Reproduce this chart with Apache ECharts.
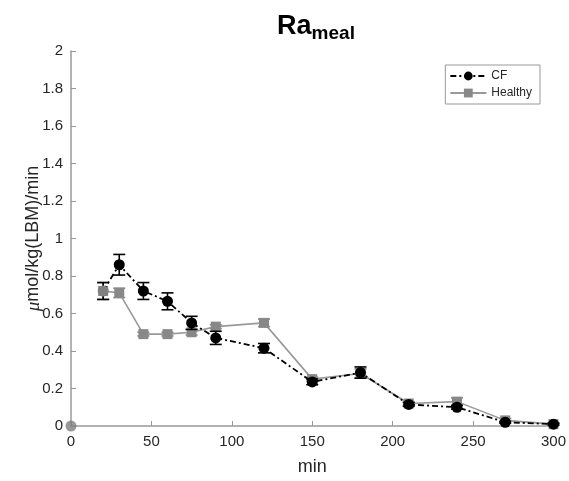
<!DOCTYPE html>
<html><head><meta charset="utf-8">
<script src="https://cdn.jsdelivr.net/npm/echarts@6/dist/echarts.min.js"></script>
<style>html,body{margin:0;padding:0;background:#fff}#c{width:569px;height:481px}</style>
</head><body><div id="c"></div>
<script>
var times = [0, 20, 30, 45, 60, 75, 90, 120, 150, 180, 210, 240, 270, 300];
var cfMean = [0, 0.72, 0.86, 0.72, 0.665, 0.55, 0.47, 0.415, 0.235, 0.285, 0.115, 0.10, 0.02, 0.01];
var cfErr = [0, 0.045, 0.055, 0.045, 0.045, 0.035, 0.035, 0.025, 0.015, 0.03, 0.01, 0.01, 0.005, 0.005];
var hMean = [0, 0.72, 0.71, 0.49, 0.49, 0.50, 0.53, 0.55, 0.25, 0.28, 0.12, 0.13, 0.03, 0.01];
var hErr = [0, 0.045, 0.025, 0.01, 0.01, 0.015, 0.01, 0.02, 0.01, 0.025, 0.01, 0.02, 0.01, 0.005];
var yTicks = [0, 0.2, 0.4, 0.6, 0.8, 1, 1.2, 1.4, 1.6, 1.8, 2];
var xTicks = [0, 50, 100, 150, 200, 250, 300];

function pairs(m){ return times.map(function(t,i){ return [t, m[i]]; }).slice(1); }
function errData(m, e){ return times.map(function(t,i){ return [t, m[i]-e[i], m[i]+e[i]]; }).slice(1); }
function errSeries(m, e, color, z){
  return {
    type: 'custom', z: z, silent: true,
    data: errData(m, e),
    renderItem: function(params, api){
      var x = api.value(0);
      var lo = api.coord([x, api.value(1)]);
      var hi = api.coord([x, api.value(2)]);
      var w = 6;
      var st = {stroke: color, lineWidth: 1.6};
      return {type: 'group', children: [
        {type: 'line', shape: {x1: lo[0], y1: lo[1], x2: hi[0], y2: hi[1]}, style: st},
        {type: 'line', shape: {x1: lo[0]-w, y1: lo[1], x2: lo[0]+w, y2: lo[1]}, style: st},
        {type: 'line', shape: {x1: hi[0]-w, y1: hi[1], x2: hi[0]+w, y2: hi[1]}, style: st}
      ]};
    }
  };
}
var cfPts = pairs(cfMean).map(function(p,i){
  return (i < 1) ? {value: p, itemStyle: {color: '#808080'}} : p;
});
var txt = '#262626';
var chart = echarts.init(document.getElementById('c'));
chart.setOption({
  animation: false,
  title: {
    text: '{a|Ra}{b|meal}', left: 311, top: 5, textAlign: 'center',
    textStyle: {rich: {
      a: {fontFamily: 'Liberation Sans', fontWeight: 'bold', fontSize: 27, color: '#000'},
      b: {fontFamily: 'Liberation Sans', fontWeight: 'bold', fontSize: 19, color: '#000', padding: [14,0,0,0]}
    }}
  },
  legend: {
    orient: 'vertical', right: 29, top: 65,
    backgroundColor: '#fff', borderColor: '#999', borderWidth: 1, borderRadius: 0,
    padding: [5, 8, 5, 4], itemGap: 5, itemWidth: 36, itemHeight: 11,
    textStyle: {fontFamily: 'Liberation Sans', fontSize: 12, color: txt},
    data: ['CF', 'Healthy']
  },
  grid: {left: 71, right: 13, top: 51, bottom: 55},
  xAxis: {
    type: 'value', min: 0, max: 300, interval: 50,
    name: 'min', nameLocation: 'middle', nameGap: 32, nameMoveOverlap: false,
    nameTextStyle: {fontFamily: 'Liberation Sans', fontSize: 18, color: txt},
    axisLine: {show: true, lineStyle: {color: '#999', width: 1.5}},
    axisTick: {show: true, inside: true, length: 5, lineStyle: {color: '#999'}},
    axisLabel: {fontFamily: 'Liberation Sans', fontSize: 15, color: txt, margin: 8},
    splitLine: {show: false}
  },
  yAxis: {
    type: 'value', min: 0, max: 2, interval: 0.2,
    name: '{i|μ}mol/kg(LBM)/min', nameLocation: 'middle', nameGap: 28, nameMoveOverlap: false,
    nameTextStyle: {fontFamily: 'Liberation Sans', fontSize: 18, color: txt,
      rich: {i: {fontFamily: 'Liberation Serif', fontStyle: 'italic', fontSize: 19, color: txt}}},
    axisLine: {show: true, lineStyle: {color: '#999', width: 1.5}},
    axisTick: {show: true, inside: true, length: 5, lineStyle: {color: '#999'}},
    axisLabel: {fontFamily: 'Liberation Sans', fontSize: 15, color: txt, margin: 8,
      formatter: function(v){ return String(Math.round(v*10)/10); }},
    splitLine: {show: false}
  },
  series: [
    errSeries(hMean, hErr, '#888', 2),
    {
      name: 'Healthy', type: 'line', z: 3, data: pairs(hMean),
      symbol: 'rect', symbolSize: 10,
      itemStyle: {color: '#888'},
      lineStyle: {color: '#999', width: 1.6}
    },
    errSeries(cfMean, cfErr, '#000', 4),
    {
      name: 'CF', type: 'line', z: 5, data: cfPts,
      symbol: 'circle', symbolSize: 11,
      itemStyle: {color: '#000'},
      lineStyle: {color: '#000', width: 1.8, type: [6, 3, 2, 3]}
    },
    {
      type: 'scatter', z: 6, silent: true, symbol: 'circle', symbolSize: 11,
      itemStyle: {color: '#808080'},
      data: [[times[0], cfMean[0]]]
    }
  ]
});
</script></body></html>
